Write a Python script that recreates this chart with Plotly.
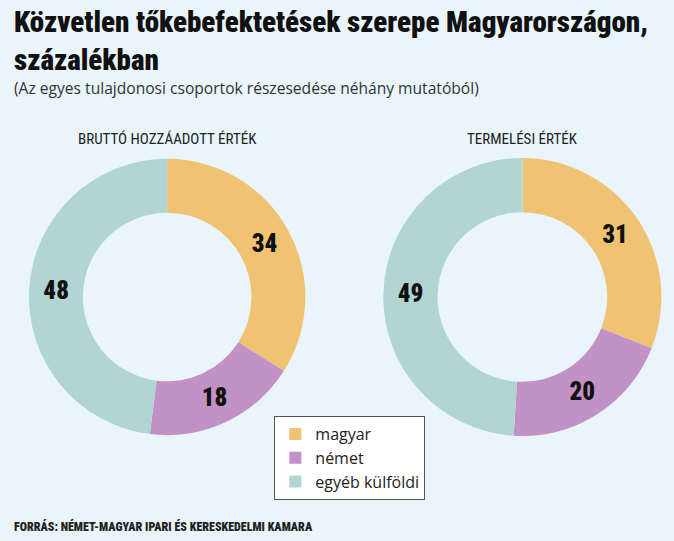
import plotly.graph_objects as go

categories = ["magyar", "német", "egyéb külföldi"]
brutto_values = [34, 18, 48]
termelesi_values = [31, 20, 49]
colors = ["#F0C374", "#C291C6", "#B1D5D3"]
chart_titles = ["BRUTTÓ HOZZÁADOTT ÉRTÉK", "TERMELÉSI ÉRTÉK"]

BG = "#E9F5FB"
COND = "Roboto"
CS = "font-stretch:condensed"
CSB = "font-stretch:condensed;font-weight:900"

fig = go.Figure()
domains = [[0.043, 0.453], [0.568, 0.982]]
for i, vals in enumerate([brutto_values, termelesi_values]):
    fig.add_trace(go.Pie(
        labels=categories, values=vals,
        marker=dict(colors=colors, line=dict(width=0)),
        hole=0.61, sort=False, direction="clockwise", rotation=0,
        textinfo="value", textposition="inside", insidetextorientation="horizontal",
        texttemplate=f"<span style='{CSB}'>%{{value}}</span>",
        textfont=dict(family=COND, size=25, color="#111111", weight="bold"),
        domain=dict(x=domains[i], y=[0.194, 0.708]),
        showlegend=(i == 0), hoverinfo="label+value",
    ))

fig.add_annotation(x=0.018, y=0.995, xref="paper", yref="paper", xanchor="left", yanchor="top",
                   text=f"<span style='{CSB}'>Közvetlen tőkebefektetések szerepe Magyarországon,<br>százalékban</span>",
                   showarrow=False, align="left",
                   font=dict(family=COND, size=29, color="#111111"))
fig.add_annotation(x=0.018, y=0.837, xref="paper", yref="paper", xanchor="left", yanchor="middle",
                   text="<span style='font-stretch:90%'>(Az egyes tulajdonosi csoportok részesedése néhány mutatóból)</span>",
                   showarrow=False, font=dict(family="Open Sans", size=15.6, color="#333333"))
for i, t in enumerate(chart_titles):
    fig.add_annotation(x=sum(domains[i]) / 2, y=0.743, xref="paper", yref="paper",
                       xanchor="center", yanchor="middle", text=f"<span style='{CS}'>{t}</span>", showarrow=False,
                       font=dict(family=COND, size=15, color="#222222"))
fig.add_annotation(x=0.018, y=0.026, xref="paper", yref="paper", xanchor="left", yanchor="middle",
                   text=f"<span style='{CSB}'>FORRÁS: NÉMET-MAGYAR IPARI ÉS KERESKEDELMI KAMARA</span>",
                   showarrow=False, font=dict(family=COND, size=12, color="#222222"))

fig.update_layout(
    width=674, height=541, margin=dict(l=0, r=0, t=0, b=0),
    paper_bgcolor=BG, plot_bgcolor=BG,
    legend=dict(x=0.407, y=0.231, xanchor="left", yanchor="top",
                bgcolor="white", bordercolor="#555555", borderwidth=1,
                font=dict(family="Open Sans", size=16, color="#222222"),
                traceorder="normal", itemsizing="constant"),
)
fig.write_html("out.html")
